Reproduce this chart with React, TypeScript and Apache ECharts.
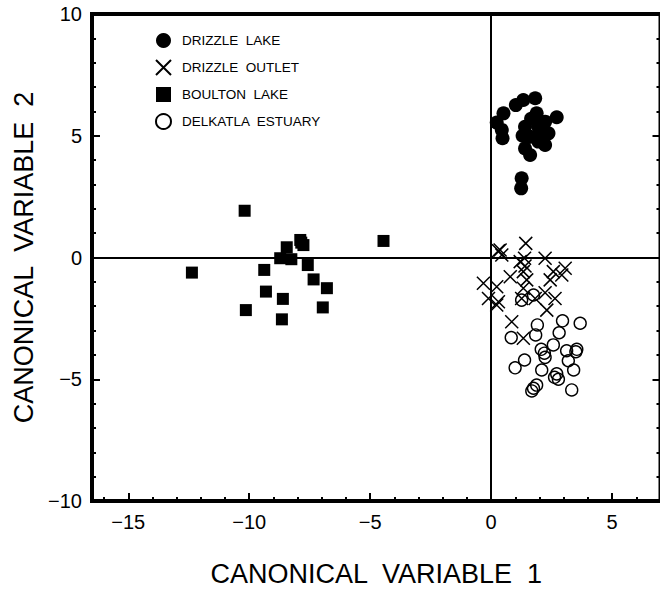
import React, { useEffect, useRef } from "react";
import * as echarts from "echarts";

const seriesNames = ["DRIZZLE  LAKE", "DRIZZLE  OUTLET", "BOULTON  LAKE", "DELKATLA  ESTUARY"];

const drizzleLake: number[][] = [
  [1.82, 6.54], [1.33, 6.47], [1.02, 6.26], [0.51, 5.92], [0.23, 5.54], [0.44, 5.24],
  [0.47, 4.9], [1.88, 5.92], [2.71, 5.76], [2.23, 5.58], [1.4, 5.37], [1.95, 5.37],
  [2.37, 5.1], [1.61, 4.96], [2.23, 4.62], [1.4, 4.48], [1.61, 4.21], [1.95, 4.76],
  [1.26, 3.25], [1.24, 2.84], [1.65, 5.7], [2.05, 5.05], [1.3, 5.0],
];

const drizzleOutlet: number[][] = [
  [1.43, 0.58], [0.3, 0.28], [0.44, 0.1], [0.37, 0.31], [1.2, -0.17], [1.38, -0.03],
  [2.23, -0.03], [1.33, -0.58], [1.4, -0.35], [0.79, -0.79], [2.57, -0.58], [3.06, -0.44],
  [2.92, -0.72], [1.47, -0.92], [2.44, -0.92], [-0.32, -1.06], [0.23, -1.2], [1.33, -1.26],
  [2.23, -1.45], [-0.11, -1.68], [0.3, -1.82], [0.23, -1.95], [1.26, -1.68], [1.82, -1.68],
  [2.64, -1.68], [2.3, -2.16], [0.85, -2.64], [1.33, -3.32],
];

const boultonLake: number[][] = [
  [-10.19, 1.92], [-4.45, 0.68], [-12.37, -0.62], [-7.85, 0.61], [-7.89, 0.72], [-7.76, 0.51],
  [-8.45, 0.42], [-8.72, -0.03], [-8.26, -0.07], [-7.58, -0.31], [-7.34, -0.9], [-6.79, -1.26],
  [-9.38, -0.51], [-9.31, -1.4], [-8.61, -1.7], [-10.14, -2.16], [-6.96, -2.05], [-8.65, -2.54],
];

const delkatlaEstuary: number[][] = [
  [1.91, -2.77], [2.95, -2.6], [3.68, -2.7], [0.83, -3.29], [1.84, -3.18], [2.81, -3.09],
  [2.57, -3.59], [2.07, -3.77], [2.2, -3.93], [2.23, -4.1], [3.12, -3.83], [3.54, -3.77],
  [3.5, -3.87], [3.19, -4.24], [1.38, -4.21], [0.99, -4.53], [2.09, -4.62], [3.41, -4.62],
  [2.71, -4.78], [2.62, -4.92], [2.78, -5.0], [1.88, -5.24], [1.75, -5.37], [1.68, -5.48],
  [3.33, -5.44], [1.26, -1.75], [1.75, -1.54],
];

const xMin = -16.5;
const xMax = 7;
const yMin = -10;
const yMax = 10;
const xMajorTicks = [-15, -10, -5, 0, 5];
const xMinorTicks = [-16, -14, -13, -12, -11, -9, -8, -7, -6, -4, -3, -2, -1, 1, 2, 3, 4, 6];
const yInterval = 5;

const xTitle = "CANONICAL  VARIABLE  1";
const yTitle = "CANONICAL  VARIABLE  2";

const crossPath = "path://M0,0L10,10M10,0L0,10";
const FONT = "Liberation Sans";

const fmt = (v: number) => String(v).replace("-", "\u2212");

export default function App() {
  const ref = useRef<HTMLDivElement>(null);
  useEffect(() => {
    if (!ref.current) return;
    const chart = echarts.init(ref.current, null, { renderer: "svg" });
    const tickStyle = { color: "#000", width: 2 };
    chart.setOption({
      animation: false,
      backgroundColor: "#fff",
      grid: {
        left: 92,
        top: 14,
        width: 568.5,
        height: 487,
        show: true,
        borderColor: "#000",
        borderWidth: 4,
        backgroundColor: "transparent",
        containLabel: false,
        outerBoundsMode: "none",
      },
      legend: {
        orient: "vertical",
        left: 155,
        top: 33,
        padding: 0,
        itemWidth: 15,
        itemHeight: 15,
        itemGap: 11,
        selectedMode: false,
        textStyle: { fontFamily: FONT, fontSize: 13.5, color: "#000", padding: [0, 0, 0, 6] },
        data: [
          { name: seriesNames[0], icon: "circle" },
          { name: seriesNames[1], icon: crossPath },
          { name: seriesNames[2], icon: "rect" },
          { name: seriesNames[3], icon: "circle" },
        ],
      },
      xAxis: [
        {
          type: "value",
          min: xMin,
          max: xMax,
          position: "bottom",
          axisLine: { show: false, onZero: false },
          splitLine: { show: false },
          axisTick: { show: true, inside: true, length: 8, lineStyle: tickStyle, customValues: xMajorTicks },
          axisLabel: {
            show: true,
            customValues: xMajorTicks,
            formatter: fmt,
            fontFamily: FONT,
            fontSize: 20,
            color: "#000",
            margin: 11,
          },
          name: xTitle,
          nameLocation: "middle",
          nameGap: 59,
          nameTextStyle: { fontFamily: FONT, fontSize: 27, color: "#000" },
        },
        {
          type: "value",
          min: xMin,
          max: xMax,
          position: "bottom",
          axisLine: { show: false, onZero: false },
          splitLine: { show: false },
          axisTick: { show: true, inside: true, length: 4, lineStyle: tickStyle, customValues: xMinorTicks },
          axisLabel: { show: false },
        },
      ],
      yAxis: [
        {
          type: "value",
          min: yMin,
          max: yMax,
          interval: yInterval,
          position: "left",
          axisLine: { show: false, onZero: false },
          splitLine: { show: false },
          axisTick: { show: true, inside: true, length: 8, lineStyle: tickStyle },
          minorTick: { show: true, splitNumber: 5, length: 4, lineStyle: tickStyle },
          axisLabel: { formatter: fmt, fontFamily: FONT, fontSize: 20, color: "#000", margin: 10 },
          name: yTitle,
          nameLocation: "middle",
          nameGap: 54,
          nameTextStyle: { fontFamily: FONT, fontSize: 27, color: "#000" },
        },
        {
          type: "value",
          min: yMin,
          max: yMax,
          interval: yInterval,
          position: "right",
          axisLine: { show: false, onZero: false },
          splitLine: { show: false },
          axisTick: { show: true, inside: true, length: 8, lineStyle: tickStyle },
          minorTick: { show: true, splitNumber: 5, length: 4, lineStyle: tickStyle },
          axisLabel: { show: false },
        },
      ],
      series: [
        {
          name: seriesNames[0],
          type: "scatter",
          data: drizzleLake,
          symbol: "circle",
          symbolSize: 14,
          itemStyle: { color: "#000", opacity: 1 },
          markLine: {
            silent: true,
            symbol: "none",
            label: { show: false },
            lineStyle: { color: "#000", width: 2, type: "solid" },
            data: [{ xAxis: 0 }, { yAxis: 0 }],
          },
          z: 3,
        },
        {
          name: seriesNames[1],
          type: "scatter",
          data: drizzleOutlet,
          symbol: crossPath,
          symbolSize: 13,
          itemStyle: { color: "transparent", borderColor: "#000", borderWidth: 1.5, opacity: 1 },
          z: 3,
        },
        {
          name: seriesNames[2],
          type: "scatter",
          data: boultonLake,
          symbol: "rect",
          symbolSize: 12,
          itemStyle: { color: "#000", opacity: 1 },
          z: 3,
        },
        {
          name: seriesNames[3],
          type: "scatter",
          data: delkatlaEstuary,
          symbol: "circle",
          symbolSize: 12,
          itemStyle: { color: "transparent", borderColor: "#000", borderWidth: 1.4, opacity: 1 },
          z: 3,
        },
      ],
    });
    return () => chart.dispose();
  }, []);
  return (
    <div
      ref={ref}
      style={{ position: "fixed", left: 0, top: 0, width: 660, height: 591, background: "#fff" }}
    />
  );
}
